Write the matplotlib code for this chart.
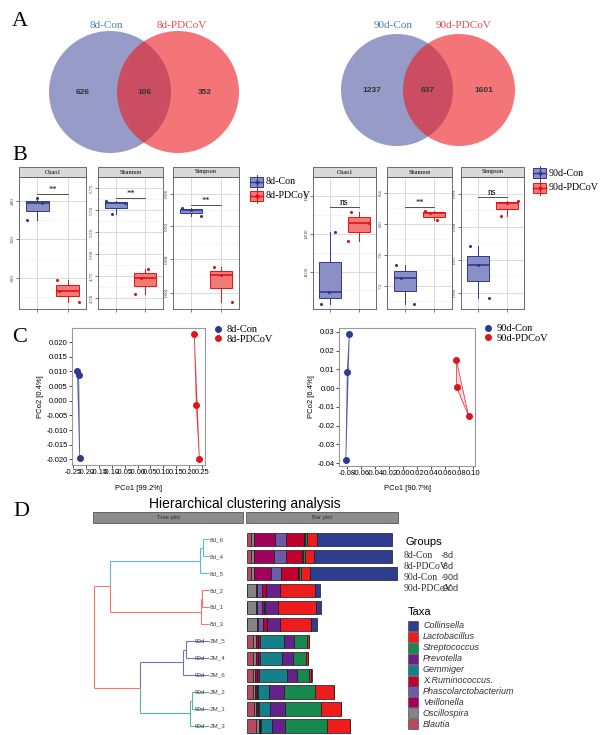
import numpy as np
import matplotlib.pyplot as plt
from matplotlib.patches import Circle, Rectangle, Polygon
from matplotlib.lines import Line2D

SERIF = 'Liberation Serif'
SANS = 'Liberation Sans'

# ---------------- data ----------------
# A: venn counts (only A, shared, only B)
venn_8d_names = ['8d-Con', '8d-PDCoV']
venn_8d_counts = [626, 106, 352]
venn_90d_names = ['90d-Con', '90d-PDCoV']
venn_90d_counts = [1237, 637, 1601]

# B: alpha diversity, 3 samples per group
metrics = ['Chao1', 'Shannon', 'Simpson']
d8_con = {'Chao1': [404, 397, 376], 'Shannon': [5.60, 5.58, 5.46], 'Simpson': [0.942, 0.940, 0.933]}
d8_pdc = {'Chao1': [297, 283, 268], 'Shannon': [4.83, 4.73, 4.54], 'Simpson': [0.871, 0.861, 0.829]}
d90_con = {'Chao1': [1204, 1045, 1015], 'Shannon': [7.47, 7.30, 6.97], 'Simpson': [0.9740, 0.9684, 0.9583]}
d90_pdc = {'Chao1': [1258, 1228, 1180], 'Shannon': [8.16, 8.13, 8.04], 'Simpson': [0.9876, 0.9872, 0.9832]}
# jitter offsets
jit_8d_con = {'Chao1': [0.0, 0.16, -0.33], 'Shannon': [-0.34, 0.30, -0.14], 'Simpson': [-0.3, 0.0, 0.34]}
jit_8d_pdc = {'Chao1': [-0.36, -0.30, 0.36], 'Shannon': [0.10, -0.14, -0.34], 'Simpson': [-0.24, 0.0, 0.37]}
jit_90d_con = {'Chao1': [0.17, -0.03, -0.31], 'Shannon': [-0.31, -0.14, 0.31], 'Simpson': [-0.28, 0.0, 0.38]}
jit_90d_pdc = {'Chao1': [-0.28, 0.35, -0.38], 'Shannon': [-0.31, -0.14, 0.10], 'Simpson': [0.38, 0.0, -0.2]}
sig_8d = {'Chao1': ('**', 409), 'Shannon': ('**', 5.64), 'Simpson': ('**', 0.946)}
sig_90d = {'Chao1': ('ns', 1270), 'Shannon': ('**', 8.21), 'Simpson': ('ns', 0.989)}

# C: PCoA coordinates
pc_8d_con_x = [-0.233, -0.228, -0.224]
pc_8d_con_y = [0.0101, 0.0087, -0.0194]
pc_8d_pdc_x = [0.220, 0.228, 0.240]
pc_8d_pdc_y = [0.0227, -0.0015, -0.0199]
pc_90d_con_x = [-0.0767, -0.0796, -0.0816]
pc_90d_con_y = [0.0291, 0.0088, -0.0382]
pc_90d_pdc_x = [0.0762, 0.0767, 0.0938]
pc_90d_pdc_y = [0.0152, 0.0004, -0.0149]

# D: clustering + top-10 genera relative abundance (%)
leaf_names = ['8d_6', '8d_4', '8d_5', '8d_2', '8d_1', '8d_3',
              '2M_5', '2M_4', '2M_6', '2M_2', '2M_1', '2M_3']
leaf_prefix = ['', '', '', '', '', '', '90d', '90d', '90d', '90d', '90d', '90d']
leaf_cluster = [0, 0, 0, 1, 1, 1, 2, 2, 2, 3, 3, 3]
# (child a, child b, height); new nodes numbered after the leaves
merges = [(0, 1, 0.052), (12, 2, 0.078), (3, 4, 0.061), (14, 5, 0.070),
          (13, 15, 0.861), (6, 7, 0.20), (17, 8, 0.226), (9, 10, 0.148),
          (19, 11, 0.165), (18, 20, 0.60), (16, 21, 1.0)]
taxa = ['Blautia', 'Oscillospira', 'Veillonella', 'Phascolarctobacterium', 'X.Ruminococcus.',
        'Gemmiger', 'Prevotella', 'Streptococcus', 'Lactobacillus', 'Collinsella']
abund = {  # rows in leaf order
    'Blautia':               [2.5, 2.5, 2.5, 0.3, 0.3, 0.3, 3.5, 3.5, 3.5, 3.8, 4.2, 5.8],
    'Oscillospira':          [2.1, 2.1, 1.7, 5.6, 5.6, 6.2, 2.1, 2.3, 1.7, 1.5, 1.7, 1.5],
    'Veillonella':           [12.7, 12.3, 11.0, 0.6, 0.5, 0.5, 1.0, 1.0, 1.0, 0.6, 0.5, 0.6],
    'Phascolarctobacterium': [7.3, 7.3, 6.3, 3.1, 2.7, 3.1, 0.3, 0.3, 0.3, 0.2, 0.2, 0.2],
    'X.Ruminococcus.':       [10.8, 10.4, 10.4, 2.1, 1.8, 2.1, 1.0, 0.8, 1.0, 0.7, 0.6, 0.7],
    'Gemmiger':              [0.2, 0.2, 0.2, 0.1, 0.1, 0.1, 15.0, 14.0, 17.5, 7.1, 7.1, 7.1],
    'Prevotella':            [0.4, 0.4, 0.3, 8.7, 8.3, 8.1, 6.3, 7.1, 6.3, 9.2, 9.4, 8.1],
    'Streptococcus':         [1.2, 1.2, 1.5, 0.1, 0.1, 0.1, 8.1, 7.7, 7.3, 19.4, 22.3, 25.8],
    'Lactobacillus':         [6.7, 5.4, 5.2, 22.1, 23.8, 19.8, 1.5, 1.5, 1.7, 12.1, 12.9, 14.8],
    'Collinsella':           [46.5, 49.0, 55.0, 2.9, 2.9, 3.5, 0.1, 0.1, 0.1, 0.1, 0.1, 0.1],
}
taxa_colors = {'Collinsella': '#2f3d8e', 'Lactobacillus': '#ee1c1c', 'Streptococcus': '#17894c',
               'Prevotella': '#66218a', 'Gemmiger': '#148089', 'X.Ruminococcus.': '#c1002d',
               'Phascolarctobacterium': '#6b5ba8', 'Veillonella': '#a2005b',
               'Oscillospira': '#858585', 'Blautia': '#b84a5e'}
group_names = ['8d-Con', '8d-PDCoV', '90d-Con', '90d-PDCoV']
group_short = ['8d', '8d', '90d', '90d']

CON_FILL, CON_EDGE = '#8a90c6', '#2e3b8e'
PDC_FILL, PDC_EDGE = '#f47a7a', '#e01414'

W, H = 600, 735
fig = plt.figure(figsize=(6, 7.35), dpi=100)


def px_axes(x0, y0, x1, y1, **kw):
    return fig.add_axes([x0 / W, 1 - y1 / H, (x1 - x0) / W, (y1 - y0) / H], **kw)


def fx(x):
    return x / W


def fy(y):
    return 1 - y / H


# panel letters
for letter, (lx, ly) in zip('ABCD', [(20, 22), (20, 155), (20, 337), (21, 512)]):
    fig.text(fx(lx), fy(ly), letter, family=SERIF, fontsize=16, ha='center', va='center')

# ---------------- A: venn ----------------
axv = px_axes(0, 0, 600, 160)
axv.set_xlim(0, 600)
axv.set_ylim(160, 0)
axv.axis('off')


def venn(cx1, cx2, cy, r, names, counts):
    axv.add_patch(Circle((cx1, cy), r, facecolor=(0.25, 0.29, 0.6), alpha=0.55, lw=0))
    axv.add_patch(Circle((cx2, cy), r, facecolor=(0.93, 0.1, 0.12), alpha=0.6, lw=0))
    axv.text(cx1 - 4, 25, names[0], color='#4a7dc0', family=SERIF, fontsize=8, ha='center', va='center')
    axv.text(cx2 + 4, 25, names[1], color='#ee4848', family=SERIF, fontsize=8, ha='center', va='center')
    xs = [(cx1 - r + cx2 - r) / 2, (cx1 + cx2) / 2, (cx1 + r + cx2 + r) / 2]
    for x, n in zip(xs, counts):
        axv.text(x, cy, str(n), family=SANS, fontsize=6, fontweight='bold', color='#333',
                 ha='center', va='center')


venn(110, 178, 92, 61, venn_8d_names, venn_8d_counts)
venn(397, 459, 90, 56, venn_90d_names, venn_90d_counts)

# ---------------- B: boxplots ----------------
left_boxes = [(19, 86), (98, 163), (173, 239)]
right_boxes = [(313, 376), (387, 452), (461, 524)]
left_ylims = {'Chao1': (259, 431.6), 'Shannon': (4.48, 5.81), 'Simpson': (0.823, 0.9632)}
right_ylims = {'Chao1': (1001, 1311.8), 'Shannon': (6.90, 8.41), 'Simpson': (0.957, 0.993)}
left_ticks = {'Chao1': [300, 350, 400], 'Shannon': [4.5, 4.75, 5.0, 5.25, 5.5, 5.75],
              'Simpson': [0.84, 0.88, 0.92, 0.96]}
right_ticks = {'Chao1': [1100, 1200, 1300], 'Shannon': [7.2, 7.6, 8.0, 8.4],
               'Simpson': [0.96, 0.97, 0.98, 0.99]}
left_fmt = {'Chao1': '{:.0f}', 'Shannon': '{:.2f}', 'Simpson': '{:.2f}'}
right_fmt = {'Chao1': '{:.0f}', 'Shannon': '{:.1f}', 'Simpson': '{:.2f}'}


def facet(x0, x1, m, con, pdc, jc, jp, ylim, ticks, fmt, sig):
    ax = px_axes(x0, 177, x1, 309)
    for pos, vals, jit, fc, ec in [(1, con, jc, CON_FILL, CON_EDGE), (2, pdc, jp, PDC_FILL, PDC_EDGE)]:
        ax.boxplot([vals], positions=[pos], widths=0.75, whis=(0, 100), patch_artist=True,
                   showfliers=False, showcaps=False, manage_ticks=False,
                   boxprops=dict(facecolor=fc, edgecolor=ec, lw=0.7),
                   medianprops=dict(color=ec, lw=1.2),
                   whiskerprops=dict(color=ec, lw=0.7))
        ax.scatter(pos + np.array(jit), vals, s=5, color=ec, zorder=4, lw=0)
    ax.set_xlim(0.4, 2.6)
    ax.set_ylim(*ylim)
    ax.set_yticks(ticks)
    ax.set_yticklabels([fmt.format(t) for t in ticks], rotation=90, va='center',
                       family=SERIF, fontsize=3.8, color='#444')
    minors = [(a + b) / 2 for a, b in zip(ticks[:-1], ticks[1:])]
    step = ticks[1] - ticks[0]
    minors = [ticks[0] - step / 2] + minors + [ticks[-1] + step / 2]
    ax.set_yticks(minors, minor=True)
    ax.set_xticks([1, 2])
    ax.set_xticklabels([])
    ax.tick_params(length=2, width=0.5, color='#444', pad=1)
    ax.tick_params(which='minor', length=0)
    ax.grid(True, which='major', color='#d4d4d4', lw=0.6)
    ax.grid(True, which='minor', axis='y', color='#ececec', lw=0.4)
    ax.set_axisbelow(True)
    for s in ax.spines.values():
        s.set_color('#555')
        s.set_linewidth(0.6)
    txt, yv = sig
    ax.plot([1, 2], [yv, yv], color='#333', lw=0.6)
    ax.text(1.5, yv, txt, ha='center', va='bottom', family=SERIF,
            fontsize=6 if txt == '**' else 7)
    # strip
    fig.add_artist(Rectangle((fx(x0), fy(177)), (x1 - x0) / W, 10 / H, transform=fig.transFigure,
                             facecolor='#d9d9d9', edgecolor='#555', lw=0.6))
    fig.text(fx((x0 + x1) / 2), fy(172), m, family=SERIF, fontsize=4.5, ha='center', va='center')


for i, m in enumerate(metrics):
    facet(*left_boxes[i], m, d8_con[m], d8_pdc[m], jit_8d_con[m], jit_8d_pdc[m],
          left_ylims[m], left_ticks[m], left_fmt[m], sig_8d[m])
    facet(*right_boxes[i], m, d90_con[m], d90_pdc[m], jit_90d_con[m], jit_90d_pdc[m],
          right_ylims[m], right_ticks[m], right_fmt[m], sig_90d[m])


def box_key(x, y, label, fc, ec):
    fig.add_artist(Rectangle((fx(x), fy(y + 5)), 13 / W, 10 / H, transform=fig.transFigure,
                             facecolor=fc, edgecolor=ec, lw=0.7))
    fig.add_artist(Line2D([fx(x + 6.5), fx(x + 6.5)], [fy(y + 7), fy(y - 7)],
                          transform=fig.transFigure, color=ec, lw=0.7))
    fig.add_artist(Line2D([fx(x), fx(x + 13)], [fy(y), fy(y)], transform=fig.transFigure,
                          color=ec, lw=1.0))
    fig.add_artist(Line2D([fx(x + 6.5)], [fy(y)], transform=fig.transFigure, marker='o',
                          markersize=2, color=ec))
    fig.text(fx(x + 16), fy(y), label, family=SERIF, fontsize=7.2, va='center')


box_key(250, 182, '8d-Con', CON_FILL, CON_EDGE)
box_key(250, 196, '8d-PDCoV', PDC_FILL, PDC_EDGE)
box_key(533, 173, '90d-Con', CON_FILL, CON_EDGE)
box_key(533, 188, '90d-PDCoV', PDC_FILL, PDC_EDGE)

# ---------------- C: PCoA ----------------


def pcoa(rect, xlim, ylim, xt, yt, xfmt, yfmt, con, pdc, xlabel, ylabel, leg_xy, names):
    ax = px_axes(*rect)
    ax.set_xlim(*xlim)
    ax.set_ylim(*ylim)
    ax.set_xticks(xt)
    ax.set_xticklabels([xfmt.format(v) for v in xt], family=SANS, fontsize=5.5)
    ax.set_yticks(yt)
    ax.set_yticklabels([yfmt.format(v) for v in yt], family=SANS, fontsize=5.5)
    ax.tick_params(length=2, width=0.5, pad=1)
    for s in ax.spines.values():
        s.set_color('#9a9a9a')
        s.set_linewidth(0.8)
    for (xs, ys), c in [(con, CON_EDGE), (pdc, '#e0141c')]:
        ax.add_patch(Polygon(np.column_stack([xs, ys]), closed=True, facecolor=c, alpha=0.15,
                             edgecolor='none'))
        ax.add_patch(Polygon(np.column_stack([xs, ys]), closed=True, fill=False, edgecolor=c,
                             lw=0.6, alpha=0.8))
        ax.plot(xs, ys, 'o', color=c, markersize=4, ls='none')
    ax.set_xlabel(xlabel, family=SANS, fontsize=5.5, labelpad=6)
    ax.set_ylabel(ylabel, family=SANS, fontsize=5.5, labelpad=2)
    handles = [Line2D([], [], marker='o', ls='none', color=CON_EDGE, markersize=4),
               Line2D([], [], marker='o', ls='none', color='#e0141c', markersize=4)]
    fig.legend(handles, names, loc='upper left', bbox_to_anchor=(fx(leg_xy[0]), fy(leg_xy[1])),
               frameon=False, prop={'family': SERIF, 'size': 7.5}, handlelength=0.6,
               handletextpad=0.5, labelspacing=0.0, borderaxespad=0, borderpad=0)


pcoa((72, 328, 205, 465), (-0.2539, 0.2616), (-0.0219, 0.0248),
     np.round(np.arange(-0.25, 0.2501, 0.05), 2), np.round(np.arange(-0.020, 0.0201, 0.005), 3),
     '{:.2f}', '{:.3f}', (pc_8d_con_x, pc_8d_con_y), (pc_8d_pdc_x, pc_8d_pdc_y),
     'PCo1 [99.2%]', 'PCo2 [0.4%]', (215, 325), ['8d-Con', '8d-PDCoV'])
pcoa((339, 328, 475, 466), (-0.0914, 0.1029), (-0.0416, 0.0321),
     np.round(np.arange(-0.08, 0.1001, 0.02), 2), np.round(np.arange(-0.04, 0.0301, 0.01), 2),
     '{:.2f}', '{:.2f}', (pc_90d_con_x, pc_90d_con_y), (pc_90d_pdc_x, pc_90d_pdc_y),
     'PCo1 [90.7%]', 'PCo2 [6.4%]', (485, 324), ['90d-Con', '90d-PDCoV'])

# ---------------- D: clustering ----------------
fig.text(fx(245), fy(504), 'Hierarchical clustering analysis', family=SANS, fontsize=10,
         ha='center', va='center')
for (x0, x1), lab in [((93, 243), 'Tree plot'), ((246, 398), 'Bar plot')]:
    fig.add_artist(Rectangle((fx(x0), fy(523)), (x1 - x0) / W, 11 / H, transform=fig.transFigure,
                             facecolor='#8c8c8c', edgecolor='#555', lw=0.6))
    fig.text(fx((x0 + x1) / 2), fy(517.5), lab, family=SANS, fontsize=4.2, color='#333',
             ha='center', va='center')

n = len(leaf_names)
ylim_rows = (n - 1 + 0.53, -0.56)

axt = px_axes(93, 530, 243, 735)
axt.set_xlim(1.009, -0.296)
axt.set_ylim(*ylim_rows)
axt.axis('off')
cluster_colors = ['#5fb6d6', '#f0786c', '#6b76b2', '#52b3a6']
root_color = '#f0786c'
node_y = {i: float(i) for i in range(n)}
node_h = {i: 0.0 for i in range(n)}
node_leaves = {i: [i] for i in range(n)}
for k, (a, b, h) in enumerate(merges):
    nid = n + k
    node_y[nid] = (node_y[a] + node_y[b]) / 2
    node_h[nid] = h
    node_leaves[nid] = node_leaves[a] + node_leaves[b]


def node_color(i):
    cl = {leaf_cluster[j] for j in node_leaves[i]}
    return cluster_colors[cl.pop()] if len(cl) == 1 else root_color


for k, (a, b, h) in enumerate(merges):
    nid = n + k
    for c in (a, b):
        col = node_color(c)
        axt.plot([h, h], [node_y[nid], node_y[c]], color=col, lw=0.8, solid_capstyle='butt')
        axt.plot([h, node_h[c]], [node_y[c], node_y[c]], color=col, lw=0.8, solid_capstyle='butt')
for i, name in enumerate(leaf_names):
    axt.text(-0.01, i, name, family=SANS, fontsize=4.5, color='#444', va='center', ha='left')
    if leaf_prefix[i]:
        axt.text(0.122, i, leaf_prefix[i], family=SANS, fontsize=4.5, color='#444',
                 va='center', ha='left')

axb = px_axes(247, 530, 398, 735)
axb.set_xlim(0, 94.4)
axb.set_ylim(*ylim_rows)
axb.axis('off')
left = np.zeros(n)
for t in taxa:
    vals = np.array(abund[t])
    axb.barh(np.arange(n), vals, left=left, height=0.78, color=taxa_colors[t],
             edgecolor='#1a1a1a', lw=0.5)
    left += vals

# legends
fig.text(fx(405), fy(542), 'Groups', family=SANS, fontsize=8, va='center')
for i, (g, s) in enumerate(zip(group_names, group_short)):
    y = 555 + i * 11.3
    fig.text(fx(404), fy(y), g, family=SERIF, fontsize=7, color='#333', va='center')
    fig.text(fx(441), fy(y), '\u00b7' + s, family=SANS, fontsize=6.5, color='#333', va='center')

fig.text(fx(408), fy(612), 'Taxa', family=SANS, fontsize=8, va='center')
for i, t in enumerate(taxa[::-1]):
    y = 626 + i * 10.9
    fig.add_artist(Rectangle((fx(408), fy(y + 5)), 10 / W, 10 / H, transform=fig.transFigure,
                             facecolor=taxa_colors[t], edgecolor='#333', lw=0.4))
    fig.text(fx(423), fy(y), t, family=SANS, fontsize=6.5, style='italic', color='#333',
             va='center')

fig.savefig('out.png', dpi=100, facecolor='white')
